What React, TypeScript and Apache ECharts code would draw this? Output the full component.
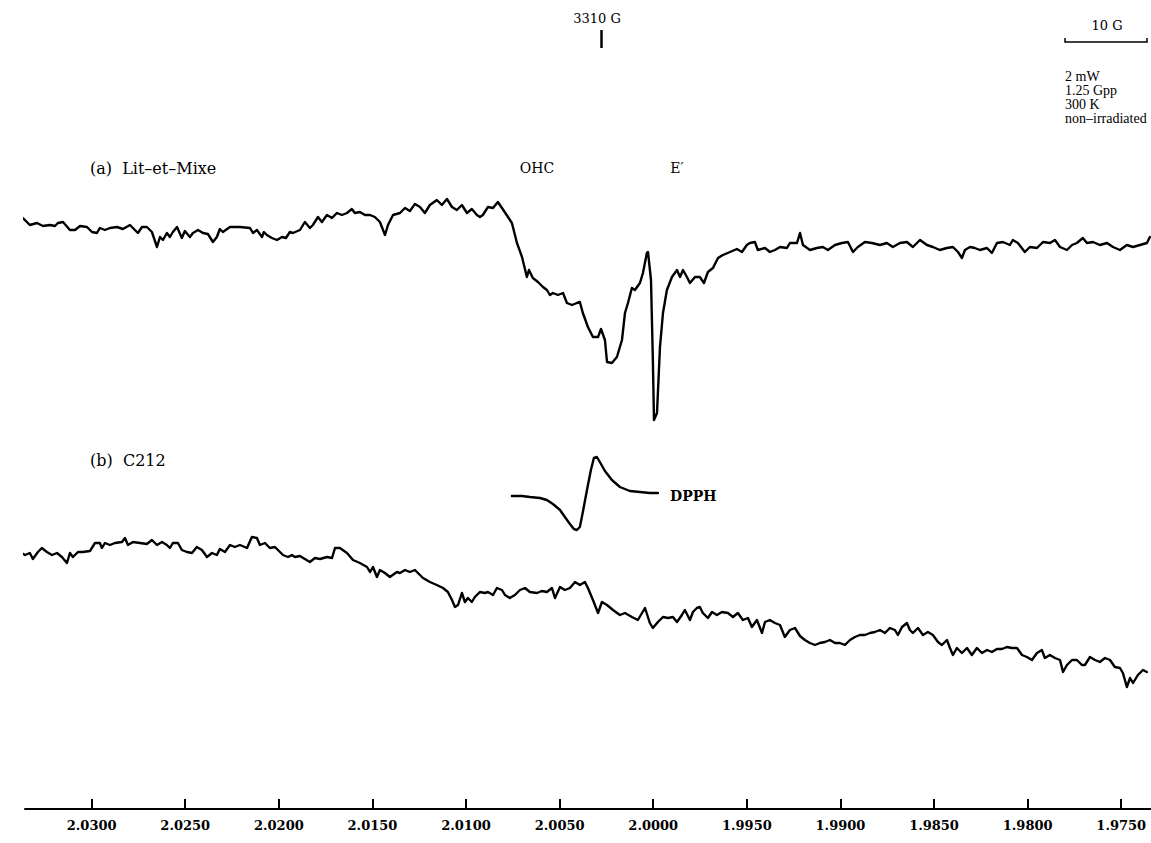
import React, { useEffect, useRef } from "react";
import * as echarts from "echarts";

// g-value tick labels of the field axis
const gTicks = [2.03, 2.025, 2.02, 2.015, 2.01, 2.005, 2.0, 1.995, 1.99, 1.985, 1.98, 1.975];

// (a) Lit-et-Mixe : [g, signal (arb. units)]
const traceA: number[][] = [
  [2.03399,-8],[2.03394,10],[2.03367,12],[2.03330,5],[2.03292,7],[2.03260,4],[2.03223,5],[2.03196,4],[2.03180,7],[2.03153,8],
  [2.03116,0],[2.03089,0],[2.03062,4],[2.03025,3],[2.02998,-2],[2.02972,-3],[2.02956,2],[2.02929,0],[2.02902,2],[2.02865,3],
  [2.02833,1],[2.02795,5],[2.02769,0],[2.02753,-3],[2.02731,3],[2.02705,3],[2.02678,-2],[2.02651,-17],[2.02635,-7],[2.02619,-10],
  [2.02598,-3],[2.02582,-7],[2.02566,-2],[2.02544,3],[2.02518,-8],[2.02502,-1],[2.02475,-7],[2.02459,-3],[2.02432,0],[2.02405,-3],
  [2.02379,-4],[2.02352,-12],[2.02331,-7],[2.02315,1],[2.02299,-2],[2.02261,3],[2.02208,3],[2.02154,2],[2.02138,-3],[2.02117,0],
  [2.02090,-7],[2.02080,-2],[2.02064,-5],[2.02037,-8],[2.02010,-10],[2.01983,-7],[2.01962,-8],[2.01941,-2],[2.01925,-3],[2.01887,0],
  [2.01861,8],[2.01834,2],[2.01818,5],[2.01791,13],[2.01770,8],[2.01743,15],[2.01716,12],[2.01690,17],[2.01663,15],[2.01636,17],
  [2.01610,21],[2.01594,17],[2.01567,18],[2.01540,15],[2.01513,15],[2.01487,13],[2.01460,8],[2.01433,-5],[2.01417,5],[2.01390,15],
  [2.01353,17],[2.01326,22],[2.01300,19],[2.01273,26],[2.01246,23],[2.01220,17],[2.01193,25],[2.01156,30],[2.01129,25],[2.01102,31],
  [2.01075,23],[2.01049,20],[2.01022,25],[2.00995,17],[2.00969,21],[2.00942,15],[2.00926,13],[2.00910,15],[2.00883,23],[2.00856,22],
  [2.00830,28],[2.00808,22],[2.00776,13],[2.00755,7],[2.00728,-13],[2.00701,-27],[2.00675,-47],[2.00664,-40],[2.00643,-48],[2.00616,-52],
  [2.00589,-57],[2.00568,-60],[2.00552,-65],[2.00536,-63],[2.00509,-65],[2.00482,-63],[2.00461,-73],[2.00434,-75],[2.00408,-73],[2.00392,-72],
  [2.00376,-83],[2.00349,-97],[2.00322,-107],[2.00295,-107],[2.00279,-99],[2.00258,-110],[2.00247,-132],[2.00221,-133],[2.00194,-127],[2.00167,-110],
  [2.00151,-83],[2.00135,-73],[2.00114,-58],[2.00098,-60],[2.00071,-53],[2.00055,-43],[2.00034,-23],[2.00028,-22],[2.00012,-50],[2.00002,-130],
  [1.99996,-190],[1.99980,-183],[1.99964,-117],[1.99948,-83],[1.99927,-60],[1.99900,-47],[1.99873,-40],[1.99857,-47],[1.99841,-40],[1.99820,-47],
  [1.99804,-53],[1.99777,-47],[1.99751,-47],[1.99729,-53],[1.99708,-42],[1.99681,-38],[1.99654,-28],[1.99628,-25],[1.99590,-22],[1.99553,-19],
  [1.99526,-22],[1.99500,-15],[1.99484,-13],[1.99457,-12],[1.99441,-20],[1.99403,-18],[1.99377,-22],[1.99350,-20],[1.99323,-17],[1.99286,-18],
  [1.99270,-13],[1.99232,-13],[1.99216,-3],[1.99200,-15],[1.99163,-20],[1.99126,-18],[1.99094,-17],[1.99067,-20],[1.99029,-15],[1.98992,-13],
  [1.98960,-12],[1.98933,-22],[1.98907,-17],[1.98869,-12],[1.98832,-13],[1.98789,-15],[1.98752,-13],[1.98720,-17],[1.98682,-13],[1.98645,-12],
  [1.98613,-17],[1.98575,-10],[1.98538,-15],[1.98506,-17],[1.98469,-20],[1.98431,-18],[1.98399,-17],[1.98372,-22],[1.98351,-28],[1.98335,-20],
  [1.98308,-17],[1.98282,-18],[1.98255,-20],[1.98217,-18],[1.98191,-23],[1.98164,-13],[1.98132,-12],[1.98095,-15],[1.98079,-10],[1.98052,-13],
  [1.98015,-22],[1.97988,-17],[1.97950,-18],[1.97918,-12],[1.97881,-13],[1.97854,-10],[1.97827,-17],[1.97790,-20],[1.97763,-15],[1.97737,-13],
  [1.97705,-8],[1.97683,-13],[1.97651,-12],[1.97614,-15],[1.97576,-13],[1.97544,-17],[1.97507,-20],[1.97470,-15],[1.97437,-17],[1.97400,-15],
  [1.97363,-13],[1.97347,-7],
];

// (b) C212 : [g, signal (arb. units)]
const traceB: number[][] = [
  [2.03447,0],[2.03420,4],[2.03383,0],[2.03356,-3],[2.03330,-1],[2.03314,-7],[2.03287,0],[2.03266,4],[2.03239,0],[2.03212,-3],
  [2.03185,-1],[2.03159,-5],[2.03132,-11],[2.03116,-1],[2.03100,-5],[2.03073,0],[2.03047,0],[2.03009,1],[2.02982,9],[2.02956,9],
  [2.02945,4],[2.02929,9],[2.02902,7],[2.02876,9],[2.02838,10],[2.02822,14],[2.02806,7],[2.02779,10],[2.02742,9],[2.02705,8],
  [2.02678,12],[2.02651,7],[2.02624,10],[2.02598,7],[2.02582,4],[2.02566,9],[2.02539,9],[2.02518,2],[2.02491,0],[2.02464,-1],
  [2.02438,5],[2.02411,2],[2.02384,-5],[2.02357,-1],[2.02331,-3],[2.02315,3],[2.02288,0],[2.02261,7],[2.02235,5],[2.02208,7],
  [2.02170,4],[2.02144,15],[2.02117,14],[2.02101,7],[2.02074,9],[2.02048,4],[2.02021,5],[2.01994,0],[2.01978,-3],[2.01951,-5],
  [2.01930,-3],[2.01914,-5],[2.01887,-4],[2.01861,-7],[2.01834,-10],[2.01807,-6],[2.01780,-7],[2.01743,-5],[2.01716,-6],[2.01700,4],
  [2.01674,4],[2.01636,-1],[2.01604,-8],[2.01567,-11],[2.01529,-15],[2.01513,-20],[2.01497,-15],[2.01476,-25],[2.01460,-18],[2.01433,-21],
  [2.01407,-25],[2.01369,-20],[2.01353,-21],[2.01326,-18],[2.01300,-20],[2.01273,-18],[2.01257,-21],[2.01230,-26],[2.01193,-30],[2.01156,-33],
  [2.01123,-36],[2.01097,-40],[2.01075,-48],[2.01059,-55],[2.01043,-53],[2.01022,-41],[2.01006,-50],[2.00990,-46],[2.00969,-50],[2.00953,-45],
  [2.00926,-40],[2.00899,-41],[2.00883,-40],[2.00856,-43],[2.00835,-36],[2.00808,-38],[2.00792,-43],[2.00766,-46],[2.00739,-43],[2.00712,-38],
  [2.00685,-36],[2.00659,-40],[2.00621,-41],[2.00595,-39],[2.00568,-40],[2.00541,-36],[2.00525,-46],[2.00498,-35],[2.00472,-38],[2.00445,-36],
  [2.00418,-30],[2.00392,-33],[2.00365,-30],[2.00349,-36],[2.00322,-48],[2.00295,-61],[2.00274,-50],[2.00247,-53],[2.00215,-58],[2.00178,-63],
  [2.00151,-61],[2.00114,-65],[2.00082,-68],[2.00044,-56],[2.00018,-71],[2.00002,-76],[1.99975,-70],[1.99948,-65],[1.99921,-66],[1.99895,-65],
  [1.99873,-70],[1.99847,-63],[1.99831,-58],[1.99804,-68],[1.99788,-60],[1.99767,-56],[1.99751,-55],[1.99735,-61],[1.99708,-66],[1.99686,-60],
  [1.99660,-63],[1.99633,-60],[1.99601,-61],[1.99574,-65],[1.99548,-61],[1.99521,-68],[1.99494,-66],[1.99473,-75],[1.99446,-68],[1.99419,-81],
  [1.99403,-70],[1.99377,-68],[1.99350,-71],[1.99323,-73],[1.99297,-85],[1.99270,-78],[1.99243,-76],[1.99216,-84],[1.99190,-88],[1.99163,-91],
  [1.99136,-93],[1.99110,-91],[1.99083,-90],[1.99056,-88],[1.99029,-91],[1.99003,-91],[1.98976,-93],[1.98949,-88],[1.98923,-85],[1.98896,-83],
  [1.98869,-83],[1.98842,-81],[1.98816,-80],[1.98789,-78],[1.98762,-81],[1.98736,-76],[1.98709,-78],[1.98693,-83],[1.98671,-75],[1.98645,-71],
  [1.98629,-78],[1.98613,-81],[1.98586,-76],[1.98559,-83],[1.98533,-80],[1.98506,-83],[1.98479,-90],[1.98458,-93],[1.98431,-88],[1.98415,-96],
  [1.98399,-103],[1.98378,-96],[1.98351,-101],[1.98324,-96],[1.98298,-103],[1.98271,-96],[1.98244,-101],[1.98217,-98],[1.98191,-100],[1.98164,-97],
  [1.98137,-97],[1.98111,-95],[1.98084,-96],[1.98057,-96],[1.98030,-103],[1.98004,-105],[1.97977,-108],[1.97950,-101],[1.97924,-98],[1.97908,-106],
  [1.97881,-103],[1.97854,-106],[1.97827,-108],[1.97811,-120],[1.97790,-113],[1.97763,-108],[1.97737,-108],[1.97710,-113],[1.97694,-113],[1.97667,-105],
  [1.97640,-108],[1.97614,-110],[1.97587,-106],[1.97560,-108],[1.97534,-115],[1.97507,-116],[1.97491,-121],[1.97470,-135],[1.97453,-126],[1.97437,-131],
  [1.97411,-123],[1.97384,-118],[1.97363,-120],
];

// DPPH reference line : [g, signal (arb. units)]
const dpph: number[][] = [
  [2.00755,0],[2.00701,0],[2.00659,-1],[2.00605,-2],[2.00568,-4],[2.00536,-8],[2.00498,-14],[2.00472,-21],[2.00445,-28],[2.00424,-33],
  [2.00408,-34],[2.00392,-31],[2.00376,-16],[2.00354,6],[2.00333,26],[2.00317,38],[2.00301,39],[2.00285,34],[2.00258,25],[2.00221,16],
  [2.00178,9],[2.00125,5],[2.00071,4],[2.00018,3],[1.99975,3],
];

// vertical offsets of each trace on the shared signal axis
const OFFSET_A = 579;
const OFFSET_B = 257;
const OFFSET_DPPH = 313;

const SERIF = '"DejaVu Serif", "Liberation Serif", serif';
const TIMES = '"Liberation Serif", "DejaVu Serif", serif';

function shift(data: number[][], off: number) {
  return data.map(([g, v]) => [g, v + off]);
}

export default function App() {
  const ref = useRef<HTMLDivElement>(null);
  useEffect(() => {
    if (!ref.current) return;
    const chart = echarts.init(ref.current, undefined, { renderer: "svg" });
    const lineSeries = (name: string, data: number[][], w: number) => ({
      name,
      type: "line",
      data,
      symbol: "none",
      showSymbol: false,
      clip: false,
      silent: true,
      lineStyle: { color: "#000", width: w, join: "round", cap: "round" },
    });
    const txt = (x: number, y: number, text: string, size: number, align = "left", weight = "normal", family = SERIF) => ({
      type: "text",
      x,
      y,
      silent: true,
      style: {
        text,
        fill: "#000",
        fontFamily: family,
        fontSize: size,
        fontWeight: weight,
        align,
        verticalAlign: "middle",
      },
    });
    chart.setOption({
      animation: false,
      backgroundColor: "#fff",
      grid: { left: 25, right: 0, top: 0, bottom: 34 },
      xAxis: {
        type: "value",
        inverse: true,
        min: 1.97341,
        max: 2.03356,
        axisLine: { show: true, lineStyle: { color: "#000", width: 2 } },
        axisTick: { show: true, inside: true, length: 10, customValues: gTicks, lineStyle: { color: "#000", width: 2 } },
        axisLabel: {
          customValues: gTicks,
          formatter: (v: number) => v.toFixed(4),
          fontFamily: SERIF,
          fontWeight: "bold",
          fontSize: 13,
          color: "#000",
          margin: 10,
        },
        splitLine: { show: false },
      },
      yAxis: { type: "value", min: 0, max: 809, show: false },
      series: [
        lineSeries("(a) Lit-et-Mixe", shift(traceA, OFFSET_A), 2.4),
        lineSeries("(b) C212", shift(traceB, OFFSET_B), 2.4),
        lineSeries("DPPH", shift(dpph, OFFSET_DPPH), 2.4),
      ],
      graphic: [
        txt(597, 18, "3310 G", 13, "center"),
        { type: "line", silent: true, shape: { x1: 601.5, y1: 30, x2: 601.5, y2: 48 }, style: { stroke: "#000", lineWidth: 2.5 } },
        txt(1107, 25, "10 G", 13, "center"),
        { type: "polyline", silent: true, shape: { points: [[1065, 38], [1065, 42], [1147, 42], [1147, 38]] }, style: { stroke: "#000", lineWidth: 1.5, fill: null } },
        txt(1065, 76, "2 mW", 14, "left", "normal", TIMES),
        txt(1065, 90, "1.25 Gpp", 14, "left", "normal", TIMES),
        txt(1065, 104, "300 K", 14, "left", "normal", TIMES),
        txt(1065, 118, "non–irradiated", 14, "left", "normal", TIMES),
        txt(90, 168, "(a)  Lit–et–Mixe", 16),
        txt(537, 168, "OHC", 14, "center"),
        txt(677, 168, "E′", 14, "center"),
        txt(90, 460, "(b)  C212", 16),
        txt(670, 496, "DPPH", 14, "left", "bold"),
      ],
    });
    return () => chart.dispose();
  }, []);
  return <div ref={ref} style={{ position: "fixed", left: 0, top: 0, width: 1151, height: 843 }} />;
}
